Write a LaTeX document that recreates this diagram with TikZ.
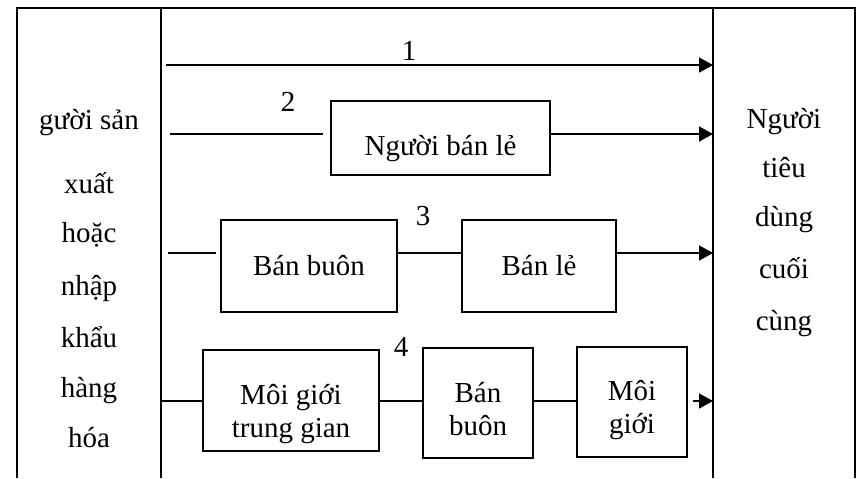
\documentclass[tikz,border=0pt]{standalone}
\usepackage{fontspec}
\setmainfont{Liberation Serif}
\usetikzlibrary{arrows.meta}

\begin{document}
\begin{tikzpicture}[x=0.5pt, y=-0.5pt, line width=0.8pt,
    font=\fontsize{14.5}{16.5}\selectfont,
    box/.style={draw, align=center, inner sep=0pt},
    flow/.style={-{Triangle[length=7pt, width=7.5pt]}}]
    \useasboundingbox (0,0) rectangle (861,478);

    % Table frame (open at the bottom)
    \draw (17,478) -- (17,8) -- (855,8) -- (855,478);
    \draw (161,8) -- (161,478);
    \draw (713,8) -- (713,478);

    % Column texts
    \foreach \w/\yy [count=\i] in {gười sản/129, xuất/193, hoặc/242, nhập/295, khẩu/347, hàng/397, hóa/447}
        \node[anchor=base] (src\i) at (89,\yy) {\w};
    \foreach \w/\yy [count=\i] in {Người/128, tiêu/177, dùng/226, cuối/278, cùng/330}
        \node[anchor=base] (dst\i) at (784,\yy) {\w};

    % Channel 1
    \node (n1) at (409,51) {1};
    \coordinate (a1) at (166,65);
    \coordinate (b1) at (713,65);
    \draw[flow] (a1) -- (b1);

    % Channel 2
    \node (n2) at (288,102) {2};
    \node[box, minimum width=109.5pt, minimum height=37pt, text height=21pt, text depth=4pt] (banle) at (440.5,138) {Người bán lẻ};
    \coordinate (a2) at (170,134);
    \coordinate (b2) at (713,134);
    \draw[shorten >=3.5pt] (a2) -- (a2 -| banle.west);
    \draw[flow] (banle.east |- b2) -- (b2);

    % Channel 3
    \node (n3) at (423,216) {3};
    \node[box, minimum width=88pt, minimum height=46pt, text height=13pt, text depth=4pt] (buon3) at (309,266) {Bán buôn};
    \node[box, minimum width=77pt, minimum height=46pt, text height=13pt, text depth=4pt] (le3) at (539,266) {Bán lẻ};
    \coordinate (a3) at (168,253);
    \coordinate (b3) at (713,253);
    \draw[shorten >=2pt] (a3) -- (a3 -| buon3.west);
    \draw (buon3.east |- a3) -- (le3.west |- a3);
    \draw[flow] (le3.east |- b3) -- (b3);

    % Channel 4
    \node (n4) at (401,347) {4};
    \node[box, minimum width=88pt, minimum height=50.5pt, text height=40pt, text depth=3.5pt] (mg4) at (291,400.5) {Môi giới\\trung gian};
    \node[box, minimum width=55pt, minimum height=55pt, text height=36pt, text depth=4pt] (buon4) at (478,403) {Bán\\buôn};
    \node[box, minimum width=55pt, minimum height=55pt, text height=35pt, text depth=4pt] (mgi4) at (632,402) {Môi\\giới};
    \coordinate (a4) at (161,401);
    \coordinate (b4) at (713,401);
    \draw (a4) -- (a4 -| mg4.west);
    \draw (mg4.east |- a4) -- (buon4.west |- a4);
    \draw (buon4.east |- a4) -- (mgi4.west |- a4);
    \draw[flow, shorten <=2.5pt] (mgi4.east |- b4) -- (b4);
\end{tikzpicture}
\end{document}
